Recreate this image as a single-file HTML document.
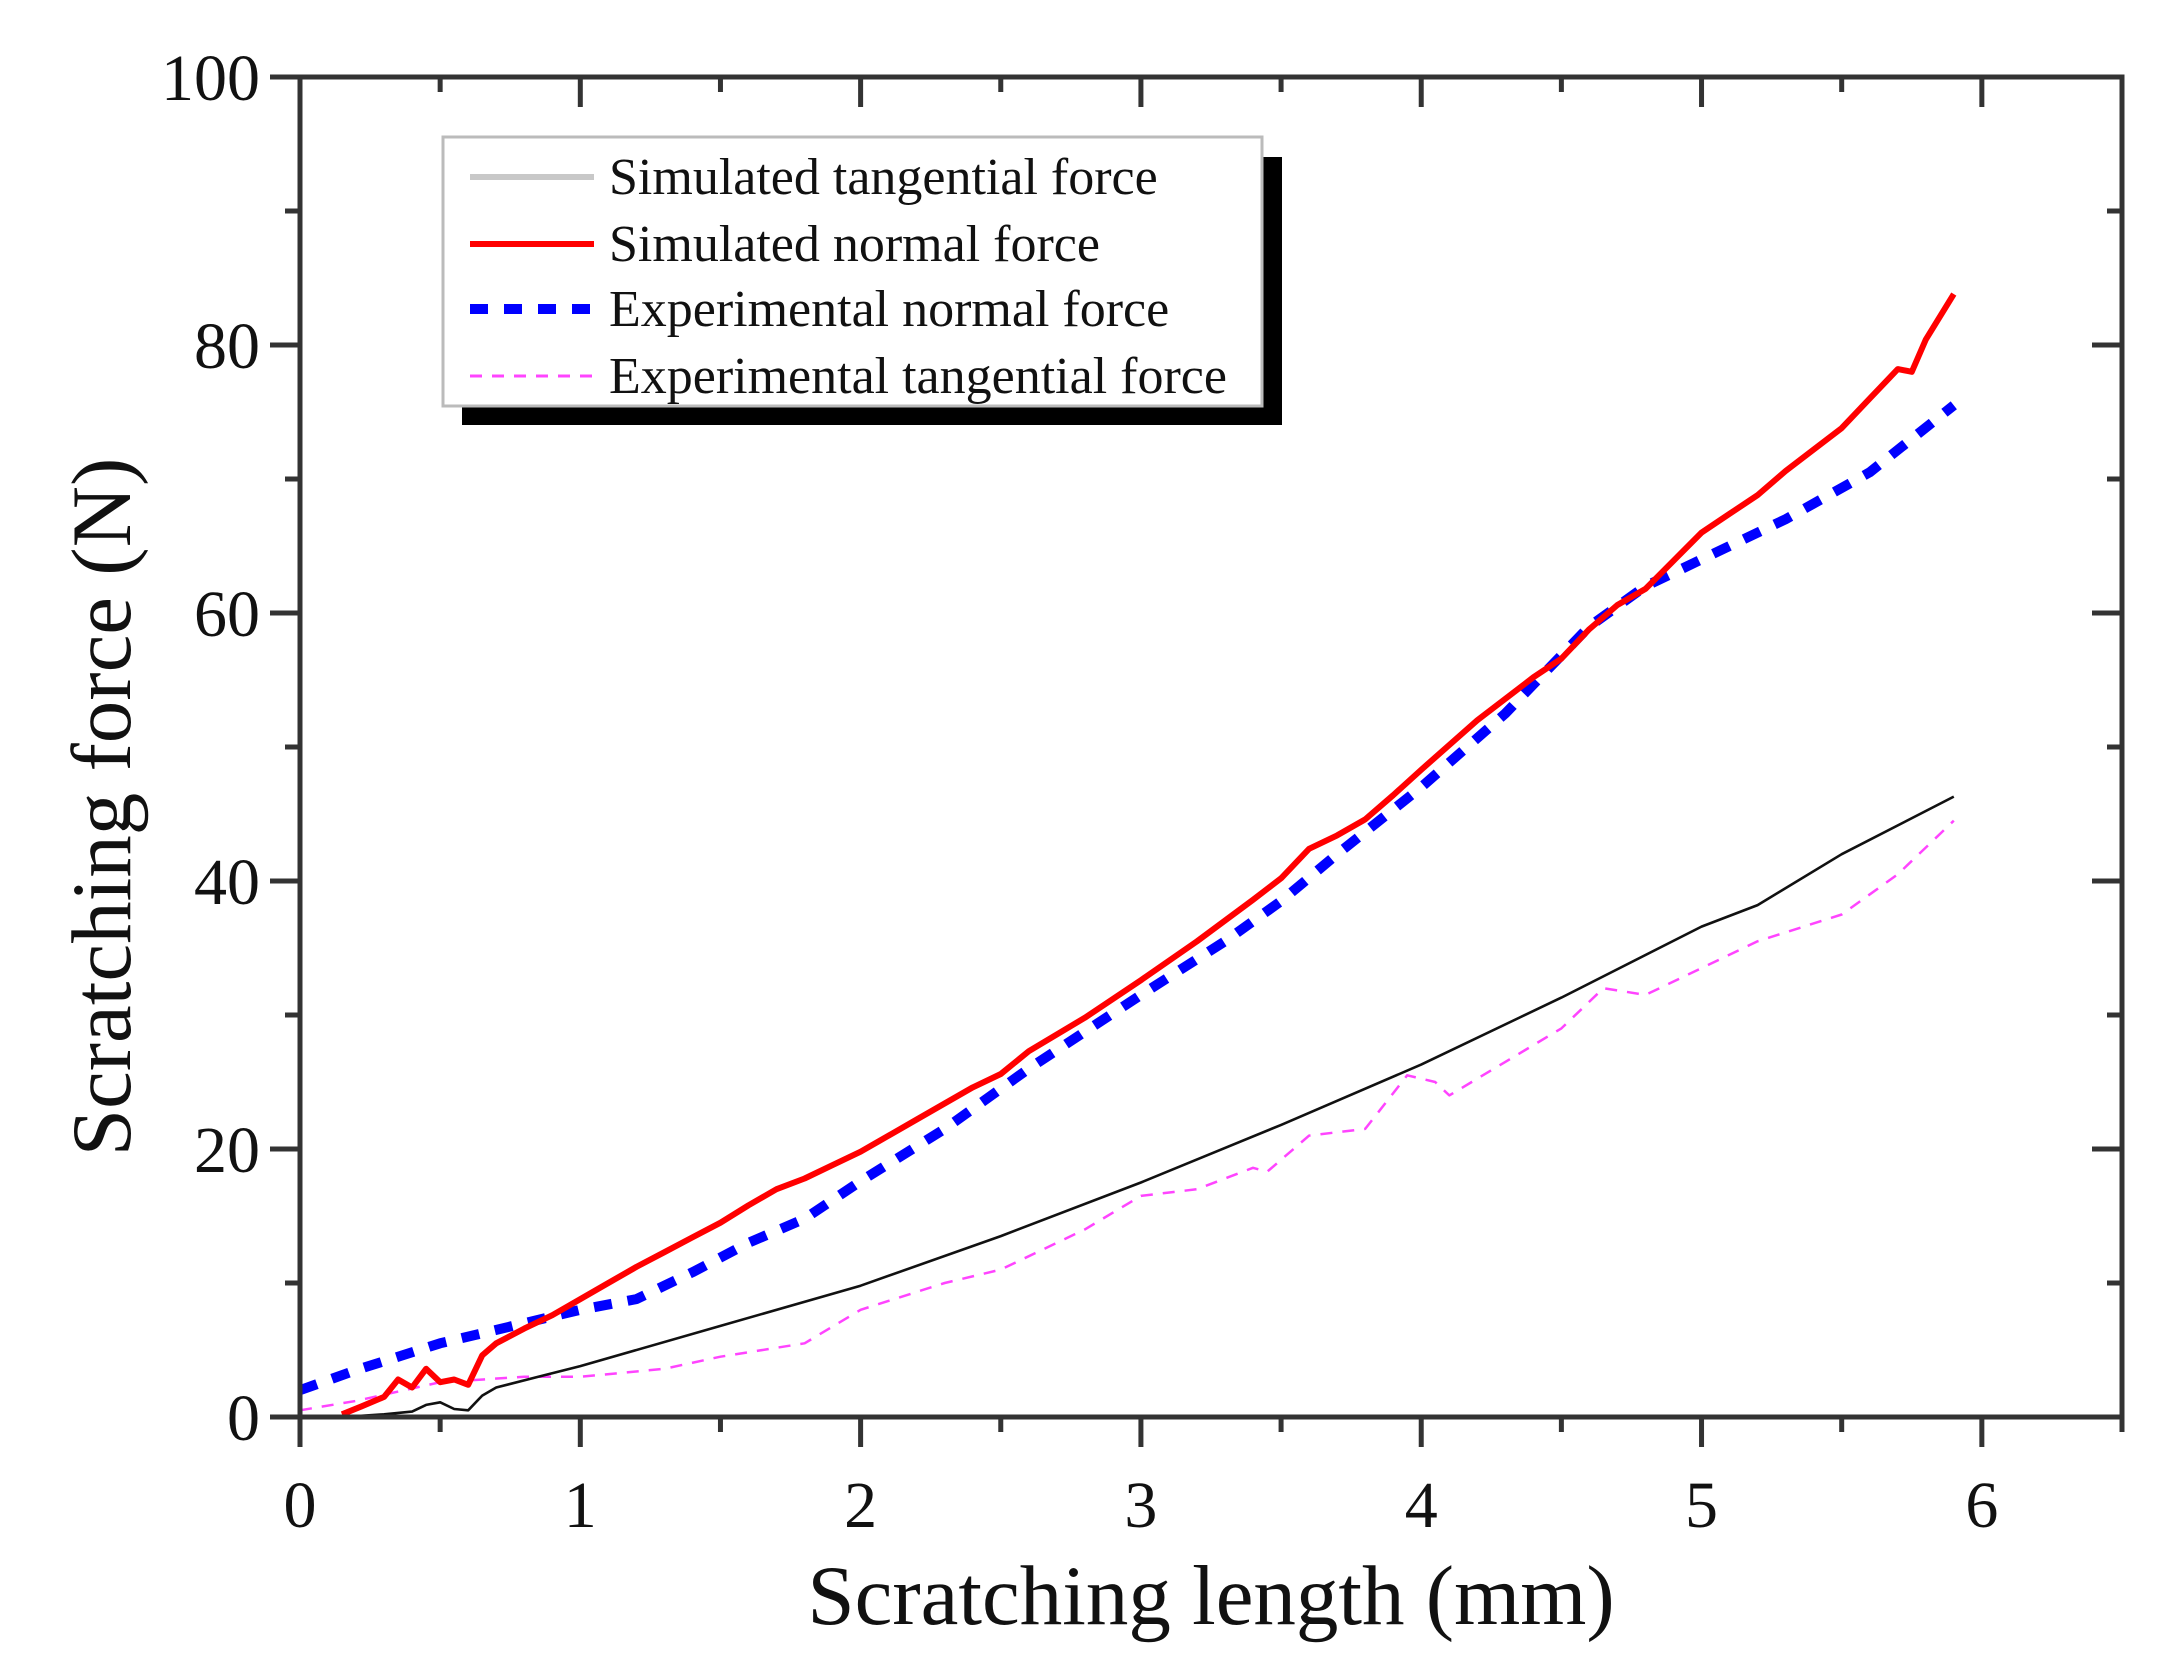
<!DOCTYPE html>
<html><head><meta charset="utf-8">
<style>
html,body{margin:0;padding:0;background:#fff;}
svg{display:block;}
text{font-family:"Liberation Serif",serif;fill:#111;}
</style></head>
<body>
<svg id="chart" width="2171" height="1653" viewBox="0 0 2171 1653" xmlns="http://www.w3.org/2000/svg">
<g id="plot"></g>
<g id="axes"></g>
<g id="legend"></g>
</svg>
<script>
const xTicks = [0,1,2,3,4,5,6];
const yTicks = [0,20,40,60,80,100];
const simNormalX = [0.15,0.22,0.3,0.35,0.4,0.45,0.5,0.55,0.6,0.65,0.7,0.8,0.9,1.0,1.1,1.2,1.3,1.4,1.5,1.6,1.7,1.8,1.9,2.0,2.2,2.4,2.5,2.6,2.8,3.0,3.2,3.4,3.5,3.6,3.7,3.8,3.9,4.0,4.2,4.4,4.5,4.6,4.7,4.8,5.0,5.1,5.2,5.3,5.4,5.5,5.6,5.7,5.75,5.8,5.9];
const simNormalY = [0.2,0.8,1.5,2.8,2.2,3.6,2.6,2.8,2.4,4.6,5.5,6.6,7.6,8.8,10.0,11.2,12.3,13.4,14.5,15.8,17.0,17.8,18.8,19.8,22.2,24.6,25.6,27.3,29.8,32.6,35.5,38.6,40.2,42.4,43.4,44.6,46.4,48.3,52.0,55.2,56.6,58.8,60.6,61.8,66.0,67.4,68.8,70.6,72.2,73.8,76.0,78.2,78.0,80.4,83.8];
const expNormalX = [0,0.2,0.5,0.8,1.0,1.2,1.4,1.6,1.8,2.0,2.3,2.6,3.0,3.3,3.5,3.7,4.0,4.3,4.6,4.8,5.0,5.3,5.6,5.9];
const expNormalY = [2.0,3.5,5.5,7.0,8.0,8.8,10.8,13.0,14.8,17.6,21.5,26.0,31.5,35.5,38.5,42.0,47.0,52.5,59.0,62.0,64.0,67.0,70.5,75.5];
const simTanX = [0.15,0.3,0.4,0.45,0.5,0.55,0.6,0.65,0.7,0.85,1.0,1.5,2.0,2.5,3.0,3.5,4.0,4.5,5.0,5.2,5.5,5.9];
const simTanY = [0.0,0.2,0.4,0.9,1.1,0.6,0.5,1.6,2.2,3.0,3.8,6.8,9.8,13.5,17.5,21.8,26.3,31.3,36.6,38.2,42.0,46.3];
const expTanX = [0,0.2,0.5,0.8,1.0,1.3,1.5,1.8,2.0,2.3,2.5,2.8,3.0,3.2,3.4,3.45,3.6,3.8,3.95,4.05,4.1,4.3,4.5,4.65,4.8,5.0,5.2,5.5,5.7,5.9];
const expTanY = [0.5,1.2,2.6,3.0,3.0,3.6,4.5,5.5,8.0,10.0,11.0,14.0,16.5,17.0,18.6,18.3,21.0,21.5,25.5,25.0,24.0,26.5,29.0,32.0,31.5,33.5,35.5,37.5,40.5,44.5];

const X0=300, X1=2122, Y0=1417, Y1=77;
const XMAX=6.5, YMAX=100;
function sx(v){return X0+(X1-X0)*v/XMAX;}
function sy(v){return Y0-(Y0-Y1)*v/YMAX;}
const NS="http://www.w3.org/2000/svg";
function mk(tag,attrs,parent){const e=document.createElementNS(NS,tag);for(const k in attrs)e.setAttribute(k,attrs[k]);parent.appendChild(e);return e;}
const plot=document.getElementById('plot'), axes=document.getElementById('axes'), legend=document.getElementById('legend');

function series(xs,ys,style,name){
  const d=xs.map((x,i)=>(i?'L':'M')+sx(x).toFixed(1)+' '+sy(ys[i]).toFixed(1)).join(' ');
  const p=mk('path',Object.assign({d:d,fill:'none','stroke-linejoin':'round'},style),plot);
  
  
}
series(expTanX,expTanY,{stroke:'#ff44ff','stroke-width':2.5,'stroke-dasharray':'12 10'},'experimental-tangential-force-line');
series(simTanX,simTanY,{stroke:'#111','stroke-width':2.6},'simulated-tangential-force-line');
series(expNormalX,expNormalY,{stroke:'#0000ff','stroke-width':10,'stroke-dasharray':'18 16'},'experimental-normal-force-line');
series(simNormalX,simNormalY,{stroke:'#ff0000','stroke-width':6},'simulated-normal-force-line');

const fr=mk('rect',{x:X0,y:Y1,width:X1-X0,height:Y0-Y1,fill:'none',stroke:'#333','stroke-width':5},axes);



for(let v=0; v<=6.5+1e-9; v+=0.5){
  const major=Math.abs(v-Math.round(v))<1e-9;
  const L=major?30:15;
  mk('line',{x1:sx(v),x2:sx(v),y1:Y0,y2:Y0+L,stroke:'#333','stroke-width':5},axes);
  mk('line',{x1:sx(v),x2:sx(v),y1:Y1,y2:Y1+L,stroke:'#333','stroke-width':5},axes);
}
xTicks.forEach(v=>{
  const t=mk('text',{x:sx(v),y:1527,'text-anchor':'middle','font-size':66},axes);
  t.textContent=v;
  
  
});
for(let v=0; v<=100; v+=10){
  const major=v%20===0;
  const L=major?30:15;
  mk('line',{x1:X0-L,x2:X0,y1:sy(v),y2:sy(v),stroke:'#333','stroke-width':5},axes);
  mk('line',{x1:X1-L,x2:X1,y1:sy(v),y2:sy(v),stroke:'#333','stroke-width':5},axes);
}
yTicks.forEach(v=>{
  const t=mk('text',{x:260,y:sy(v)+23,'text-anchor':'end','font-size':66},axes);
  t.textContent=v;
  
  
});
const xt=mk('text',{x:1211,y:1624,'text-anchor':'middle','font-size':85},axes);
xt.textContent='Scratching length (mm)';


const yt=mk('text',{x:0,y:0,'text-anchor':'middle','font-size':85,transform:'translate(130,807) rotate(-90)'},axes);
yt.textContent='Scratching force (N)';



const sh=mk('rect',{x:462,y:157,width:820,height:268,fill:'#000'},legend);


const bx=mk('rect',{x:443,y:137,width:819,height:269,fill:'#fff',stroke:'#bbb','stroke-width':3},legend);


const labels=['Simulated tangential force','Simulated normal force','Experimental normal force','Experimental tangential force'];
const styles=[{stroke:'#c8c8c8','stroke-width':6},{stroke:'#ff0000','stroke-width':6},{stroke:'#0000ff','stroke-width':10,'stroke-dasharray':'18 16'},{stroke:'#ff44ff','stroke-width':3,'stroke-dasharray':'12 10'}];
const rows=[177,244,309,376];
labels.forEach((lab,i)=>{
  const g=mk('g',{},legend);
  
  
  mk('line',Object.assign({x1:470,x2:594,y1:rows[i],y2:rows[i]},styles[i]),g);
  const t=mk('text',{x:609,y:rows[i]+17,'font-size':52},g);
  t.textContent=lab;
});
</script>
</body></html>
